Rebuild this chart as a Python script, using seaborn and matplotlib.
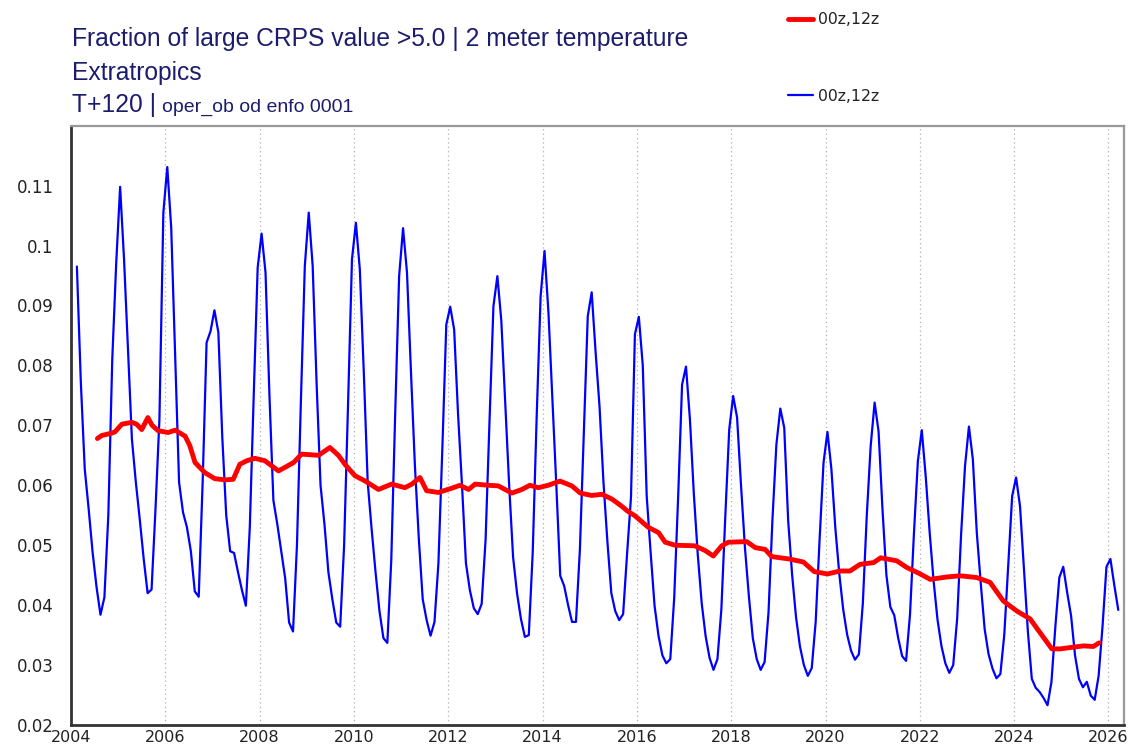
import numpy as np
import pandas as pd
import matplotlib
matplotlib.use("Agg")
import matplotlib.pyplot as plt
from matplotlib.lines import Line2D
import seaborn as sns

# Monthly fraction of large CRPS values (Feb 2004 .. Mar 2026), one row per year
blue_values = [
    0.0965, 0.0772, 0.0627, 0.0560, 0.0488, 0.0430, 0.0384, 0.0413, 0.0550, 0.0810, 0.0970,          # 2004 (Feb-)
    0.1098, 0.0977, 0.0827, 0.0677, 0.0605, 0.0543, 0.0477, 0.0420, 0.0426, 0.0560, 0.0710, 0.1055,  # 2005
    0.1131, 0.1030, 0.0820, 0.0605, 0.0555, 0.0530, 0.0490, 0.0423, 0.0414, 0.0605, 0.0838, 0.0857,  # 2006
    0.0892, 0.0855, 0.0680, 0.0550, 0.0490, 0.0487, 0.0455, 0.0425, 0.0399, 0.0530, 0.0750, 0.0963,  # 2007
    0.1020, 0.0955, 0.0750, 0.0575, 0.0535, 0.0490, 0.0445, 0.0371, 0.0356, 0.0500, 0.0740, 0.0966,  # 2008
    0.1055, 0.0966, 0.0770, 0.0600, 0.0535, 0.0455, 0.0410, 0.0371, 0.0364, 0.0500, 0.0735, 0.0977,  # 2009
    0.1038, 0.0960, 0.0790, 0.0605, 0.0527, 0.0455, 0.0390, 0.0345, 0.0337, 0.0475, 0.0720, 0.0949,  # 2010
    0.1029, 0.0955, 0.0791, 0.0635, 0.0512, 0.0410, 0.0375, 0.0349, 0.0372, 0.0470, 0.0662, 0.0868,  # 2011
    0.0898, 0.0860, 0.0718, 0.0600, 0.0470, 0.0425, 0.0395, 0.0385, 0.0402, 0.0509, 0.0707, 0.0899,  # 2012
    0.0949, 0.0875, 0.0738, 0.0600, 0.0480, 0.0420, 0.0377, 0.0347, 0.0350, 0.0489, 0.0714, 0.0915,  # 2013
    0.0991, 0.0888, 0.0745, 0.0600, 0.0449, 0.0432, 0.0400, 0.0372, 0.0372, 0.0493, 0.0686, 0.0882,  # 2014
    0.0922, 0.0822, 0.0731, 0.0605, 0.0506, 0.0420, 0.0390, 0.0375, 0.0385, 0.0485, 0.0580, 0.0852,  # 2015
    0.0881, 0.0800, 0.0582, 0.0488, 0.0399, 0.0349, 0.0316, 0.0303, 0.0310, 0.0412, 0.0580, 0.0768,  # 2016
    0.0798, 0.0710, 0.0585, 0.0484, 0.0403, 0.0348, 0.0312, 0.0292, 0.0310, 0.0393, 0.0548, 0.0693,  # 2017
    0.0749, 0.0713, 0.0600, 0.0496, 0.0415, 0.0345, 0.0310, 0.0292, 0.0305, 0.0388, 0.0543, 0.0668,  # 2018
    0.0728, 0.0696, 0.0541, 0.0451, 0.0380, 0.0331, 0.0300, 0.0282, 0.0295, 0.0372, 0.0510, 0.0638,  # 2019
    0.0689, 0.0627, 0.0529, 0.0453, 0.0393, 0.0351, 0.0324, 0.0309, 0.0318, 0.0403, 0.0549, 0.0666,  # 2020
    0.0738, 0.0690, 0.0560, 0.0450, 0.0397, 0.0383, 0.0345, 0.0315, 0.0307, 0.0384, 0.0519, 0.0640,  # 2021
    0.0692, 0.0615, 0.0522, 0.0441, 0.0376, 0.0332, 0.0303, 0.0287, 0.0300, 0.0377, 0.0517, 0.0632,  # 2022
    0.0698, 0.0643, 0.0521, 0.0437, 0.0360, 0.0318, 0.0294, 0.0278, 0.0285, 0.0351, 0.0465, 0.0582,  # 2023
    0.0613, 0.0565, 0.0460, 0.0356, 0.0277, 0.0262, 0.0255, 0.0245, 0.0233, 0.0272, 0.0365, 0.0446,  # 2024
    0.0464, 0.0421, 0.0382, 0.0316, 0.0277, 0.0263, 0.0272, 0.0249, 0.0242, 0.0282, 0.0365, 0.0464,  # 2025
    0.0477, 0.0433, 0.0392,                                                                          # 2026
]
blue_first_month = "2004-02"
blue_last_month = "2026-03"

# 12-month running mean (decimal year, value)
red_years = [
    2004.56, 2004.65, 2004.86, 2004.93, 2005.08, 2005.29, 2005.39, 2005.50, 2005.63, 2005.72,
    2005.85, 2006.06, 2006.21, 2006.42, 2006.52, 2006.63, 2006.84, 2007.05, 2007.27, 2007.44,
    2007.58, 2007.73, 2007.90, 2008.11, 2008.40, 2008.54, 2008.72, 2008.89, 2009.25, 2009.49,
    2009.67, 2009.82, 2010.02, 2010.24, 2010.52, 2010.80, 2011.08, 2011.23, 2011.40, 2011.54,
    2011.79, 2012.07, 2012.25, 2012.43, 2012.57, 2012.85, 2013.06, 2013.35, 2013.56, 2013.73,
    2013.91, 2014.12, 2014.37, 2014.62, 2014.80, 2015.04, 2015.26, 2015.47, 2015.68, 2015.80,
    2015.96, 2016.24, 2016.46, 2016.60, 2016.81, 2017.23, 2017.45, 2017.62, 2017.80, 2017.94,
    2018.33, 2018.51, 2018.72, 2018.86, 2019.23, 2019.53, 2019.76, 2020.04, 2020.31, 2020.52,
    2020.73, 2021.02, 2021.17, 2021.51, 2021.72, 2022.01, 2022.22, 2022.57, 2022.85, 2023.21,
    2023.49, 2023.77, 2024.06, 2024.34, 2024.55, 2024.80, 2024.98, 2025.26, 2025.47, 2025.68,
    2025.80,
]
red_values = [
    0.0678, 0.0683, 0.0687, 0.0689, 0.0702, 0.0705, 0.0702, 0.0693, 0.0713, 0.0700,
    0.0691, 0.0688, 0.0692, 0.0682, 0.0666, 0.0638, 0.0621, 0.0611, 0.0609, 0.0610,
    0.0635, 0.0641, 0.0645, 0.0641, 0.0624, 0.0630, 0.0638, 0.0652, 0.0650, 0.0663,
    0.0650, 0.0634, 0.0616, 0.0607, 0.0593, 0.0602, 0.0596, 0.0602, 0.0613, 0.0591,
    0.0588, 0.0595, 0.0600, 0.0593, 0.0602, 0.0600, 0.0599, 0.0587, 0.0593, 0.0600,
    0.0596, 0.0600, 0.0607, 0.0599, 0.0587, 0.0583, 0.0585, 0.0577, 0.0565, 0.0557,
    0.0549, 0.0530, 0.0521, 0.0505, 0.0500, 0.0499, 0.0491, 0.0482, 0.0499, 0.0505,
    0.0506, 0.0496, 0.0493, 0.0481, 0.0477, 0.0472, 0.0456, 0.0452, 0.0457, 0.0457,
    0.0468, 0.0471, 0.0479, 0.0474, 0.0463, 0.0452, 0.0443, 0.0447, 0.0449, 0.0446,
    0.0438, 0.0407, 0.0390, 0.0377, 0.0354, 0.0327, 0.0327, 0.0330, 0.0332, 0.0331,
    0.0337,
]

x_ticks = list(range(2004, 2027, 2))
y_ticks = [0.02, 0.03, 0.04, 0.05, 0.06, 0.07, 0.08, 0.09, 0.10, 0.11]
y_tick_labels = ["0.02", "0.03", "0.04", "0.05", "0.06", "0.07", "0.08", "0.09", "0.1", "0.11"]
series_label = "00z,12z"

months = pd.period_range(blue_first_month, blue_last_month, freq="M")
df_blue = pd.DataFrame({"year": months.year + (months.month - 0.5) / 12.0,
                        "value": blue_values})
df_red = pd.DataFrame({"year": red_years, "value": red_values})

sns.set_style("white")
plt.rcParams["font.family"] = ["DejaVu Sans"]

W, H = 1129, 750
fig = plt.figure(figsize=(W / 100, H / 100), dpi=100)
left, right, top, bottom = 71, 1124, 125.7, 725
ax = fig.add_axes([left / W, 1 - bottom / H, (right - left) / W, (bottom - top) / H])

sns.lineplot(data=df_blue, x="year", y="value", ax=ax, color="#0000ff",
             linewidth=1.6, zorder=2, legend=False)
sns.lineplot(data=df_red, x="year", y="value", ax=ax, color="#ff0000",
             linewidth=3.5, zorder=3, legend=False)

ax.set_xlim(2004, 2026.33)
ax.set_ylim(0.02, 0.12)
ax.set_xticks(x_ticks)
ax.set_xticklabels([str(t) for t in x_ticks])
ax.set_yticks(y_ticks)
ax.set_yticklabels(y_tick_labels)
ax.set_xlabel("")
ax.set_ylabel("")

ax.grid(False)
ax.xaxis.grid(True, linestyle=(0, (1, 2.5)), color="#b0b0b0", linewidth=0.9)
ax.set_axisbelow(True)

for side in ("left", "bottom"):
    ax.spines[side].set_color("#333333")
    ax.spines[side].set_linewidth(2.0)
for side in ("top", "right"):
    ax.spines[side].set_color("#999999")
    ax.spines[side].set_linewidth(1.6)

ax.tick_params(axis="y", direction="out", length=4, width=1.2, color="#333333",
               labelcolor="#222222", labelsize=12, pad=8.5)
ax.tick_params(axis="x", direction="out", length=3, width=1.2, color="#333333",
               labelcolor="#222222", labelsize=11.5, pad=0.5)

# Legend in the top-right corner
handles = [Line2D([], [], color="#ff0000", linewidth=3.5),
           Line2D([], [], color="#0000ff", linewidth=1.6)]
fig.legend(handles, [series_label, series_label], loc="upper left",
           bbox_to_anchor=(781.5 / W, 1 - 6 / H), frameon=False, fontsize=11.3,
           borderaxespad=0, labelspacing=3.93, handlelength=1.6, handletextpad=0.32,
           labelcolor="#222222")

# Title block
navy = "#1c1c6e"
fig.text(72 / W, 1 - 46 / H, "Fraction of large CRPS value >5.0 | 2 meter temperature",
         family="Liberation Sans", fontsize=17.7, color=navy, va="baseline", ha="left")
fig.text(72 / W, 1 - 80 / H, "Extratropics",
         family="Liberation Sans", fontsize=17.7, color=navy, va="baseline", ha="left")
fig.text(72 / W, 1 - 112 / H, "T+120 |",
         family="Liberation Sans", fontsize=17.7, color=navy, va="baseline", ha="left")
fig.text(162 / W, 1 - 112 / H, "oper_ob od enfo 0001",
         family="Liberation Sans", fontsize=14, color=navy, va="baseline", ha="left")

fig.savefig("out.png", dpi=100, facecolor="white")
